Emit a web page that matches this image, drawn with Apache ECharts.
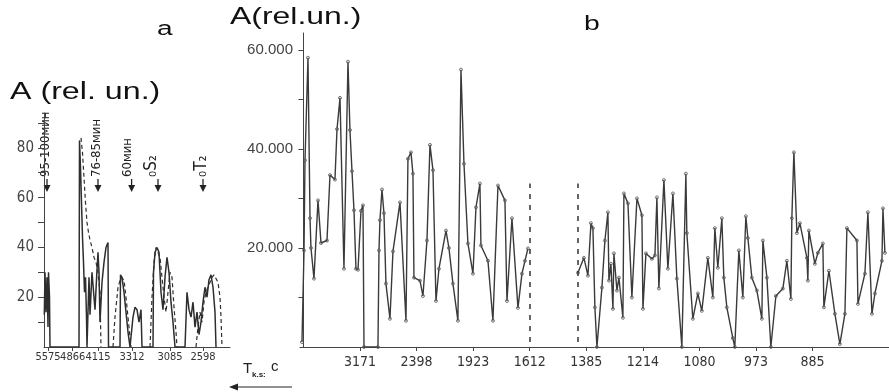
<!DOCTYPE html>
<html>
<head>
<meta charset="utf-8">
<script src="https://cdn.jsdelivr.net/npm/echarts@6/dist/echarts.min.js"></script>
<style>
  html, body { margin: 0; padding: 0; background: #fff; }
  #chart { width: 889px; height: 392px; }
</style>
</head>
<body>
<div id="chart"></div>
<script>
// ---- panel b: spectrum, x in frequency bins (one tick every 10 bins) ----
const bTickPos = [10, 20, 30, 40, 50, 60, 70, 80, 90];
const bTickLabels = ['3171', '2398', '1923', '1612', '1385', '1214', '1080', '973', '885'];
const bYTicks = [10, 20, 30, 40, 50, 60];
const bYLabels = [20, 40, 60];

const bFreq1 = [-0.25, 0.11, 0.28, 0.81, 1.17, 1.34, 1.87, 2.58, 3.11, 4.17, 4.70, 5.58, 5.94, 6.47, 7.17, 7.88, 8.23, 8.59, 8.94, 9.29, 9.65, 10.18, 10.53, 10.71, 13.18, 13.36, 13.53, 13.89, 14.24, 14.59, 15.30, 15.83, 17.07, 18.13, 18.48, 19.01, 19.36, 19.54, 20.60, 21.13, 21.84, 22.37, 22.90, 23.43, 23.96, 25.20, 25.72, 26.43, 27.31, 27.85, 28.38, 29.08, 29.97, 30.50, 31.20, 31.38, 32.62, 33.50, 34.39, 35.62, 35.98, 36.86, 37.92, 38.63, 39.16, 39.69];
const bAmp1 = [1, 19.5, 37.7, 58.4, 26, 20, 13.8, 29.6, 21, 21.5, 34.7, 33.8, 44, 50.3, 15.8, 57.6, 43.8, 35.5, 27.6, 15.8, 15.6, 27.5, 28.6, 0, 0, 19.5, 25.6, 31.8, 27, 12.8, 5.7, 19.3, 29.2, 5.3, 38, 39.3, 35, 14, 13.4, 10.3, 21.5, 40.8, 35.7, 9.3, 15.8, 23.5, 20, 12.8, 5.3, 56, 37, 20.9, 14.8, 28.2, 33, 20.5, 17.4, 5.3, 32.6, 29.6, 9.3, 26, 7.9, 14.8, 17.4, 19.9];

const bFreq2 = [48.52, 49.58, 50.29, 50.82, 51.17, 51.52, 51.88, 52.76, 53.29, 53.82, 54.00, 54.35, 54.71, 54.88, 55.41, 55.77, 56.47, 56.65, 57.36, 58.06, 58.95, 59.83, 60.01, 60.54, 61.60, 62.13, 62.48, 62.83, 63.72, 64.42, 65.31, 66.01, 66.89, 67.60, 67.77, 68.83, 69.72, 70.42, 71.48, 72.37, 72.72, 73.25, 73.96, 74.31, 74.84, 75.90, 76.25, 76.96, 77.67, 78.20, 78.56, 79.26, 80.15, 81.03, 81.21, 81.92, 82.62, 83.51, 84.74, 85.45, 86.16, 86.33, 86.69, 87.22, 87.75, 88.99, 89.16, 89.34, 90.40, 90.93, 91.81, 91.99, 92.88, 93.94, 94.82, 95.71, 96.06, 97.83, 98.01, 99.24, 99.77, 100.48, 101.01, 102.25, 102.43, 102.78];
const bAmp2 = [15, 18, 14.4, 25, 24, 8, 0, 12, 21.5, 27.2, 13.4, 16.8, 7.7, 18.9, 11.4, 14, 5.9, 31, 29, 10, 30, 26.6, 7.7, 18.9, 17.8, 18.5, 30.2, 11.8, 33.7, 15.8, 31, 13.8, 0, 35, 23, 5.7, 10.8, 7.3, 18, 10, 24, 16, 26, 14, 8, 1.8, 0, 19.5, 10, 26.4, 22, 14, 11.4, 5.7, 21.5, 14, 0, 10.3, 11.8, 17.4, 9.7, 26, 39.3, 23, 25, 18, 13.4, 23.5, 16.8, 19, 20.9, 8, 15.4, 6.7, 0.6, 6.7, 24, 21.5, 8.7, 14.8, 27.2, 6.7, 10.8, 17.4, 28, 19];

const bGapLines = [40.04, 48.52];
const bGapRange = [1, 33];

// ---- panel a ----
const aTickPos = [2, 14.35, 27, 44, 63, 79.5];
const aTickLabels = ['5575', '4866', '4115', '3312', '3085', '2598'];
const aYTicks = [10, 20, 30, 40, 50, 60, 70, 80, 90];
const aYLabels = [20, 40, 60, 80];

const aSolidX = [0.15, 0.5, 1, 1.5, 2, 2.25, 2.75, 3, 17.5, 17.75, 18.25, 18.75, 19.25, 19.75, 20.25, 20.75, 21.25, 21.5, 22, 22.5, 23, 24, 25, 25.5, 26.5, 27, 27.5, 28, 29, 30, 31, 32, 32.25, 38, 38.25, 39, 40, 41, 42, 43, 43.5, 44.5, 45.5, 46.5, 47.5, 48.5, 49, 54.5, 54.75, 55.5, 56.5, 57.5, 58.5, 59.5, 60.5, 61.5, 62.5, 63.5, 64.5, 65.5, 70.5, 71.5, 72.5, 73.5, 74.5, 75.5, 76.5, 77.5, 78.5, 79.5, 80.5, 81.5, 82.5, 83.5, 84.5, 85.5, 86];
const aSolidY = [13, 30, 14, 28, 8, 30, 20, 0, 0, 83, 72, 58, 44, 34, 22, 28, 12, 0, 0, 28, 13, 30, 20, 15, 31, 38, 30, 10, 26, 34, 40, 42, 0, 0, 29, 28, 22, 14, 6, 0, 0, 12, 16, 15, 10, 15, 0, 0, 30, 38, 40, 38, 22, 15, 28, 36, 30, 18, 10, 0, 0, 22, 15, 12, 18, 8, 14, 5, 10, 18, 24, 20, 27, 29, 24, 14, 0];

const aDashX = [18.5, 19.25, 20, 20.75, 21.5, 22.25, 23, 24, 25, 26, 27, 28, 28.5, null, 34.5, 35.5, 37, 38.5, 40, 41, 42, 43, 43.5, null, 53, 54, 55, 56, 57, 58, 59, 60, 61, 62, 63, 64, 65, 66, 66.5, null, 76, 77, 78, 79, 80, 81, 82, 83, 84, 85, 86, 87, 88, 88.5, 89];
const aDashY = [84, 78, 68, 58, 50, 46, 43, 40, 36, 34, 30, 22, 0, null, 0, 12, 24, 28, 27, 20, 12, 4, 0, null, 0, 20, 34, 40, 40, 36, 28, 20, 14, 22, 30, 28, 16, 6, 0, null, 0, 8, 14, 10, 18, 22, 24, 26, 28, 29, 29, 26, 20, 12, 0];

const aMarkPos = [1.5, 27, 43.8, 57, 79.5];
const aMarkTextPos = [1, 26.4, 42, 53.6, 79];
const aMarkText = ['95-100мин', '76-85мин', '60мин', '₀S₂', '₀T₂'];
const aMarkFont = [13, 13, 13, 17, 17];

const narrow = "'Liberation Sans Narrow', 'Arial Narrow', 'DejaVu Sans Condensed', sans-serif";
const sans = "'Liberation Sans', Arial, sans-serif";
const ink = '#333';

function pairs(xs, ys) {
  return xs.map((x, i) => (x === null ? [xs[i - 1], '-'] : [x, ys[i]]));
}
function labelAt(pos, labels) {
  return function (v) {
    const i = pos.findIndex(p => Math.abs(p - v) < 1e-6);
    return i < 0 ? '' : labels[i];
  };
}

// panel a labels sit very close together: split them over two stacked axes
const aPosEven = aTickPos.filter((p, i) => i % 2 === 0);
const aPosOdd = aTickPos.filter((p, i) => i % 2 === 1);

const chart = echarts.init(document.getElementById('chart'));

const lineBase = {
  type: 'line',
  symbol: 'circle',
  symbolSize: 3,
  showAllSymbol: true,
  animation: false,
  silent: true,
  connectNulls: false
};

function aXAxis(pos, showLine) {
  return {
    gridIndex: 1, type: 'value', min: 0, max: 93, position: 'bottom',
    axisLine: { show: showLine, onZero: false, lineStyle: { color: '#444', width: 1 } },
    axisTick: { show: true, customValues: pos, length: 4, lineStyle: { color: '#444' } },
    axisLabel: { customValues: pos, formatter: labelAt(aTickPos, aTickLabels),
      hideOverlap: false, color: ink, fontFamily: narrow, fontSize: 11, margin: 5 },
    splitLine: { show: false }
  };
}

const option = {
  backgroundColor: '#fff',
  animation: false,
  grid: [
    { left: 300, right: 0, top: 33, bottom: 45 },
    { left: 44, width: 186, top: 113, bottom: 45 }
  ],
  xAxis: [
    {
      gridIndex: 0, type: 'value', min: -0.6, max: 103.5,
      axisLine: { lineStyle: { color: '#444', width: 1 } },
      axisTick: { customValues: bTickPos, length: 4, lineStyle: { color: '#444' } },
      axisLabel: { customValues: bTickPos, formatter: labelAt(bTickPos, bTickLabels),
        color: ink, fontFamily: narrow, fontSize: 14, margin: 8 },
      splitLine: { show: false }
    },
    aXAxis(aPosEven, true),
    aXAxis(aPosOdd, false)
  ],
  yAxis: [
    {
      gridIndex: 0, type: 'value', min: 0, max: 63.4,
      axisLine: { show: true, lineStyle: { color: '#444', width: 1 } },
      axisTick: { show: true, customValues: bYTicks, length: 5, lineStyle: { color: '#444' } },
      axisLabel: { customValues: bYLabels, formatter: v => v.toFixed(3),
        color: '#444', fontFamily: sans, fontSize: 15, margin: 7 },
      splitLine: { show: false }
    },
    {
      gridIndex: 1, type: 'value', min: 0, max: 94,
      axisLine: { show: true, lineStyle: { color: '#444', width: 1 } },
      axisTick: { show: true, customValues: aYTicks, length: 6, lineStyle: { color: '#444' } },
      axisLabel: { customValues: aYLabels, formatter: v => String(v),
        color: '#444', fontFamily: narrow, fontSize: 15, margin: 10 },
      splitLine: { show: false }
    }
  ],
  series: [
    Object.assign({}, lineBase, {
      xAxisIndex: 0, yAxisIndex: 0,
      data: pairs(bFreq1, bAmp1),
      lineStyle: { color: '#3a3a3a', width: 1.4 },
      itemStyle: { color: 'rgba(255,255,255,0)', borderColor: '#555', borderWidth: 0.8 },
      markLine: {
        silent: true, symbol: 'none', label: { show: false },
        lineStyle: { type: [5, 6], color: '#333', width: 1.5 },
        data: bGapLines.map(x => [{ coord: [x, bGapRange[0]] }, { coord: [x, bGapRange[1]] }])
      }
    }),
    Object.assign({}, lineBase, {
      xAxisIndex: 0, yAxisIndex: 0,
      data: pairs(bFreq2, bAmp2),
      lineStyle: { color: '#3a3a3a', width: 1.4 },
      itemStyle: { color: 'rgba(255,255,255,0)', borderColor: '#555', borderWidth: 0.8 }
    }),
    Object.assign({}, lineBase, {
      xAxisIndex: 1, yAxisIndex: 1,
      symbol: 'none',
      data: pairs(aSolidX, aSolidY),
      lineStyle: { color: '#2e2e2e', width: 1.5 }
    }),
    Object.assign({}, lineBase, {
      xAxisIndex: 1, yAxisIndex: 1,
      symbol: 'none',
      data: pairs(aDashX, aDashY),
      lineStyle: { color: '#2e2e2e', width: 1.2, type: [4, 3] }
    })
  ]
};

chart.setOption(option);

// the scanned figure is stretched sideways, so the big captions get scaleX
function caption(text, x, y, size, sx) {
  return { type: 'text', x: x, y: y, scaleX: sx,
    style: { text: text, font: size + 'px ' + sans, fill: '#111', align: 'left', verticalAlign: 'top' } };
}

const g = [
  caption('a', 157, 19, 20, 1.4),
  caption('b', 584, 14, 21, 1.35),
  caption('A (rel. un.)', 10, 81, 23, 1.4),
  caption('A(rel.un.)', 230, 5, 24, 1.33),
  { type: 'text', x: 243, y: 361, style: { text: 'T', font: '15px ' + sans, fill: '#222', verticalAlign: 'top' } },
  { type: 'text', x: 252, y: 371, style: { text: 'k.s:', font: 'bold 8px ' + sans, fill: '#222', verticalAlign: 'top' } },
  { type: 'text', x: 271, y: 359, style: { text: 'c', font: '15px ' + sans, fill: '#222', verticalAlign: 'top' } },
  { type: 'line', shape: { x1: 234, y1: 387, x2: 292, y2: 387 }, style: { stroke: '#222', lineWidth: 1 } },
  { type: 'polygon', shape: { points: [[229, 387], [238, 383.5], [238, 390.5]] }, style: { fill: '#222' } }
];

aMarkPos.forEach((p, i) => {
  const ax = chart.convertToPixel({ xAxisIndex: 1 }, p);
  const tx = chart.convertToPixel({ xAxisIndex: 1 }, aMarkTextPos[i]);
  g.push({
    type: 'text', x: tx, y: 177, rotation: Math.PI / 2,
    style: { text: aMarkText[i], font: aMarkFont[i] + 'px ' + narrow, fill: '#222', align: 'left', verticalAlign: 'middle' }
  });
  g.push({ type: 'line', shape: { x1: ax, y1: 179, x2: ax, y2: 186 }, style: { stroke: '#222', lineWidth: 1.3 } });
  g.push({ type: 'polygon', shape: { points: [[ax - 3.5, 185], [ax + 3.5, 185], [ax, 192]] }, style: { fill: '#222' } });
});

chart.setOption({ graphic: g });
</script>
</body>
</html>
